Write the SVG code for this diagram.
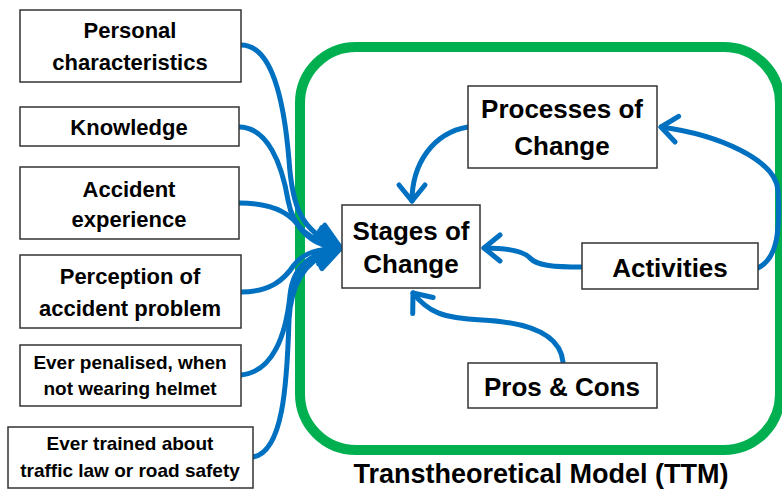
<svg xmlns="http://www.w3.org/2000/svg" width="782" height="490" viewBox="0 0 782 490">
  <style>
    .box { fill: #ffffff; stroke: #333333; stroke-width: 1.5; }
    .t { font-family: "Liberation Sans", Arial, sans-serif; font-weight: bold; fill: #000000; text-anchor: middle; }
    .f22 { font-size: 22px; }
    .f19 { font-size: 19px; }
    .f26 { font-size: 26px; }
    .f27 { font-size: 27px; }
    .link { fill: none; stroke: #0070C0; stroke-width: 5; stroke-linecap: round; }
    .frame { fill: none; stroke: #00B050; stroke-width: 10; }
  </style>
  <defs>
    <marker id="arr" markerUnits="userSpaceOnUse" markerWidth="30" markerHeight="30" refX="0" refY="0" orient="auto" overflow="visible">
      <path d="M-16,-13 L0,0 L-16,13" fill="none" stroke="#0070C0" stroke-width="5" stroke-linecap="round" stroke-linejoin="round"/>
    </marker>
    <marker id="arr-big" markerUnits="userSpaceOnUse" markerWidth="40" markerHeight="40" refX="0" refY="0" orient="auto" overflow="visible">
      <path d="M-22,-15 L0,0 L-22,15" fill="none" stroke="#0070C0" stroke-width="5" stroke-linecap="round" stroke-linejoin="round"/>
    </marker>
  </defs>

  <!-- model frame -->
  <rect id="ttm-frame" class="frame" x="300" y="47" width="480" height="403" rx="56" ry="56"/>
  <text class="t f27" x="541" y="483">Transtheoretical Model (TTM)</text>

  <!-- connectors -->
  <g id="connectors">
    <path class="link" marker-end="url(#arr-big)" d="M241,45 C272,45 284,100 289,160 C292,205 300,232 340,247"/>
    <path class="link" marker-end="url(#arr-big)" d="M239,127 C268,127 282,165 288,200 C293,228 308,240 340,247"/>
    <path class="link" marker-end="url(#arr-big)" d="M239,203 C272,203 290,212 300,228 C310,241 322,246 340,248"/>
    <path class="link" marker-end="url(#arr-big)" d="M241,292 C270,292 284,280 294,265 C304,252 318,249 340,248"/>
    <path class="link" marker-end="url(#arr-big)" d="M241,375 C273,372 286,335 290,295 C293,265 312,253 340,248"/>
    <path class="link" marker-end="url(#arr-big)" d="M253,457 C283,452 287,385 289,320 C291,278 310,256 340,249"/>
    <path class="link" marker-end="url(#arr)" d="M468,127 C432,133 412,165 412,201"/>
    <path class="link" marker-end="url(#arr)" d="M582,267 C555,267 537,266 530,258 C523,250 505,248 484,248"/>
    <path class="link" marker-end="url(#arr)" d="M758,268 C778,258 780,230 778,190 C775,160 720,135 661,127"/>
    <path class="link" marker-end="url(#arr)" d="M563,362 C560,332 522,322 482,320 C442,318 428,312 413,293"/>
  </g>

  <!-- factor boxes -->
  <g id="personal">
    <rect class="box" x="20" y="10" width="221" height="72"/>
    <text class="t f22" x="130" y="38">Personal</text>
    <text class="t f22" x="130" y="70">characteristics</text>
  </g>
  <g id="knowledge">
    <rect class="box" x="20" y="107" width="219" height="39"/>
    <text class="t f22" x="129" y="135">Knowledge</text>
  </g>
  <g id="accident-experience">
    <rect class="box" x="20" y="167" width="219" height="72"/>
    <text class="t f22" x="129" y="197">Accident</text>
    <text class="t f22" x="129" y="227">experience</text>
  </g>
  <g id="perception">
    <rect class="box" x="20" y="255" width="221" height="73"/>
    <text class="t f22" x="130" y="284">Perception of</text>
    <text class="t f22" x="130" y="316">accident problem</text>
  </g>
  <g id="penalised">
    <rect class="box" x="20" y="345" width="221" height="61"/>
    <text class="t f19" x="130" y="369">Ever penalised, when</text>
    <text class="t f19" x="130" y="395">not wearing helmet</text>
  </g>
  <g id="trained">
    <rect class="box" x="8" y="427" width="245" height="61"/>
    <text class="t f19" x="130" y="450">Ever trained about</text>
    <text class="t f19" x="130" y="477">traffic law or road safety</text>
  </g>

  <!-- model boxes -->
  <g id="stages">
    <rect class="box" x="342" y="205" width="138" height="83"/>
    <text class="t f26" x="411" y="240">Stages of</text>
    <text class="t f26" x="411" y="273">Change</text>
  </g>
  <g id="processes">
    <rect class="box" x="468" y="86" width="189" height="82"/>
    <text class="t f26" x="562" y="118">Processes of</text>
    <text class="t f26" x="562" y="155">Change</text>
  </g>
  <g id="activities">
    <rect class="box" x="582" y="243" width="176" height="46"/>
    <text class="t f26" x="670" y="277">Activities</text>
  </g>
  <g id="pros-cons">
    <rect class="box" x="468" y="363" width="189" height="45"/>
    <text class="t f26" x="562" y="396">Pros &amp; Cons</text>
  </g>
</svg>
